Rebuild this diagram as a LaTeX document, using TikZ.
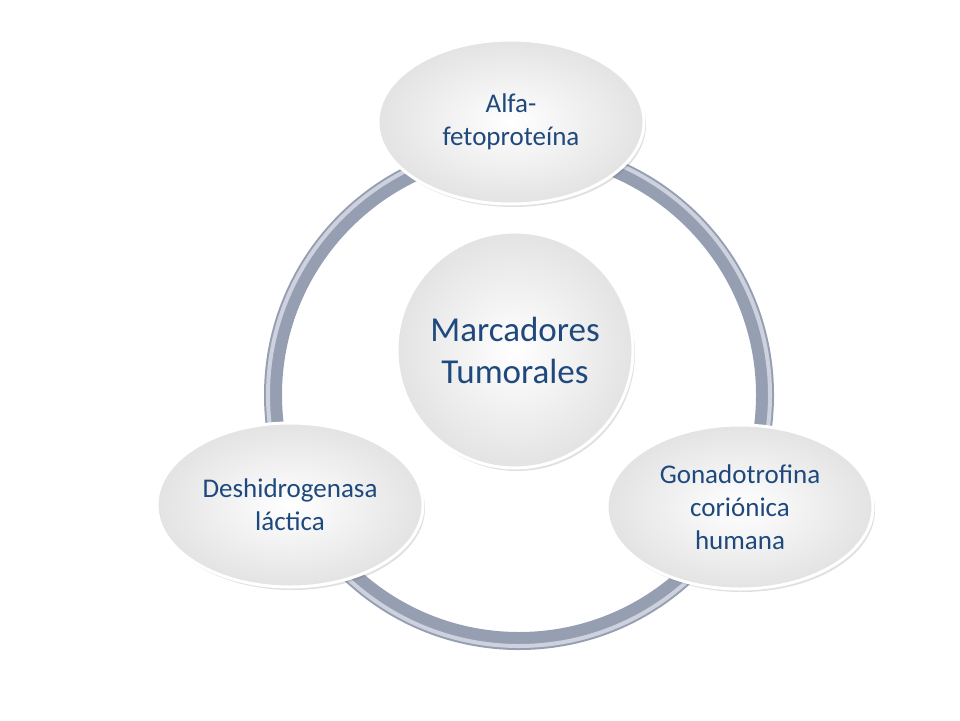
\documentclass[tikz,border=0pt]{standalone}
\usepackage{fontspec}
\setmainfont{Carlito}
\usetikzlibrary{shadows,shapes.geometric}
\definecolor{txt}{RGB}{31,73,125}
\definecolor{ring}{RGB}{150,158,178}
\definecolor{ringl}{RGB}{205,210,222}
\tikzset{
  bubble/.style={draw=white,line width=3pt,inner sep=0pt,
    inner color=white,outer color=black!11,
    drop shadow={shadow xshift=2pt,shadow yshift=-3pt,opacity=0.2,fill=black!60},
    text=txt,align=center,font=\fontsize{27}{33}\selectfont},
  ell/.style={bubble,ellipse,minimum width=266pt,minimum height=164pt},
}
\begin{document}
\begin{tikzpicture}[x=1pt,y=-1pt]
\useasboundingbox (0,0) rectangle (960,720);
\coordinate (c) at (519,395);
\draw[ring,line width=18pt] (c) circle (246);
\draw[ringl,line width=4pt] (c) circle (251);
\node[bubble,circle,minimum size=236pt,font=\fontsize{35}{42}\selectfont] (m) at (515,350) {Marcadores\\Tumorales};
\node[ell] (a) at (511,122) {Alfa-\\fetoproteína};
\node[ell] (g) at (740,507) {Gonadotrofina\\coriónica\\humana};
\node[ell] (d) at (290,505) {Deshidrogenasa\\láctica};
\end{tikzpicture}
\end{document}
